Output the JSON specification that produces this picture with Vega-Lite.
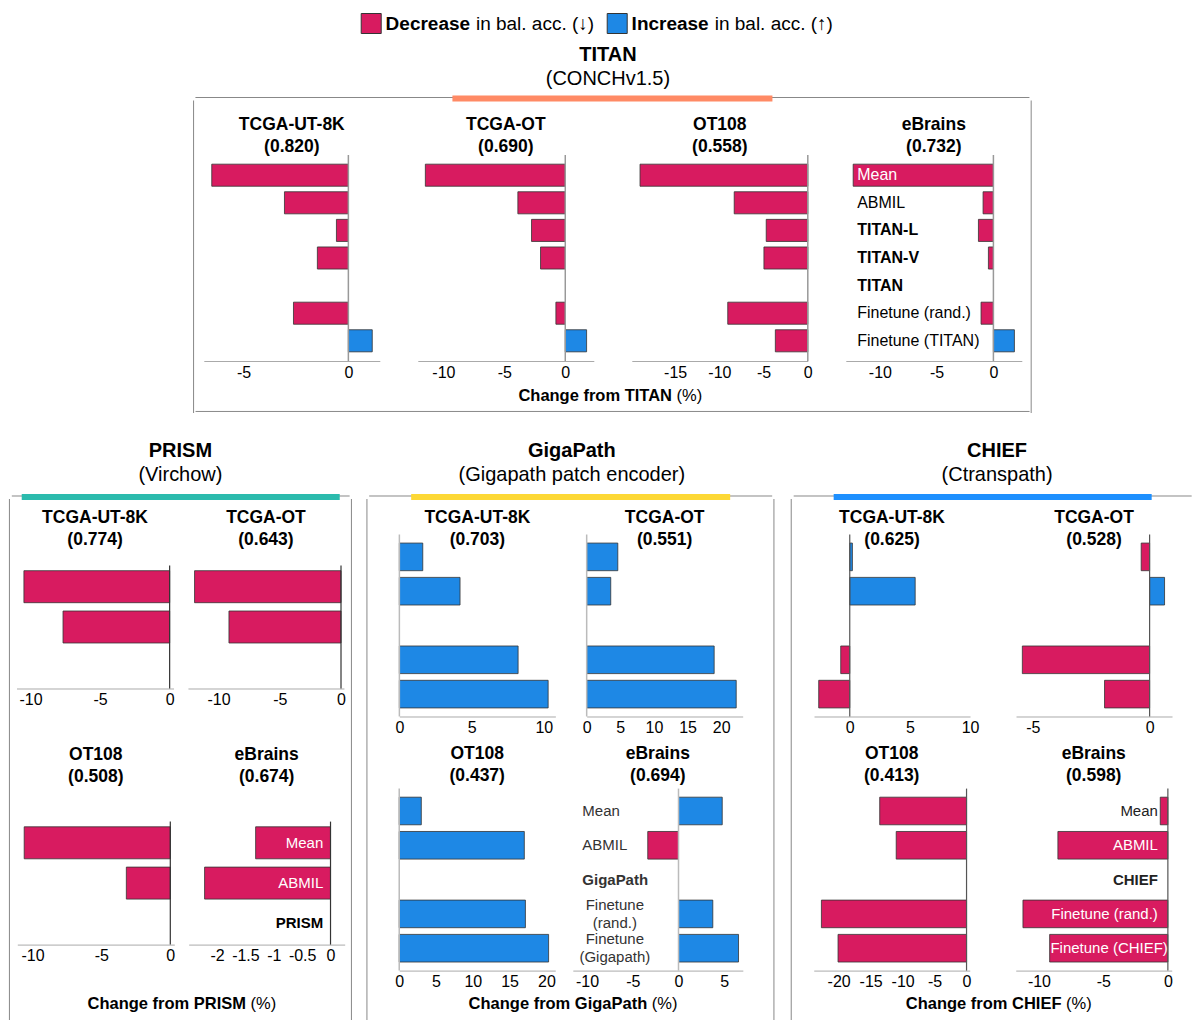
{
"$schema": "https://vega.github.io/schema/vega-lite/v6.json",
"padding": {"left": 8.3, "top": 11.5, "right": 0, "bottom": 0},
"background": "#ffffff",
"data": {"values": [
{"g":"TITAN","d":"TCGA-UT-8K","m":"Mean","v":-6.52},
{"g":"TITAN","d":"TCGA-UT-8K","m":"ABMIL","v":-3.05},
{"g":"TITAN","d":"TCGA-UT-8K","m":"TITAN-L","v":-0.57},
{"g":"TITAN","d":"TCGA-UT-8K","m":"TITAN-V","v":-1.48},
{"g":"TITAN","d":"TCGA-UT-8K","m":"Finetune (rand.)","v":-2.62},
{"g":"TITAN","d":"TCGA-UT-8K","m":"Finetune (TITAN)","v":1.14},
{"g":"TITAN","d":"TCGA-OT","m":"Mean","v":-11.48},
{"g":"TITAN","d":"TCGA-OT","m":"ABMIL","v":-3.89},
{"g":"TITAN","d":"TCGA-OT","m":"TITAN-L","v":-2.77},
{"g":"TITAN","d":"TCGA-OT","m":"TITAN-V","v":-2.03},
{"g":"TITAN","d":"TCGA-OT","m":"Finetune (rand.)","v":-0.77},
{"g":"TITAN","d":"TCGA-OT","m":"Finetune (TITAN)","v":1.75},
{"g":"TITAN","d":"OT108","m":"Mean","v":-18.97},
{"g":"TITAN","d":"OT108","m":"ABMIL","v":-8.32},
{"g":"TITAN","d":"OT108","m":"TITAN-L","v":-4.70},
{"g":"TITAN","d":"OT108","m":"TITAN-V","v":-4.96},
{"g":"TITAN","d":"OT108","m":"Finetune (rand.)","v":-9.05},
{"g":"TITAN","d":"OT108","m":"Finetune (TITAN)","v":-3.67},
{"g":"TITAN","d":"eBrains","m":"Mean","v":-12.35},
{"g":"TITAN","d":"eBrains","m":"ABMIL","v":-0.91},
{"g":"TITAN","d":"eBrains","m":"TITAN-L","v":-1.32},
{"g":"TITAN","d":"eBrains","m":"TITAN-V","v":-0.44},
{"g":"TITAN","d":"eBrains","m":"TITAN","v":null},
{"g":"TITAN","d":"eBrains","m":"Finetune (rand.)","v":-1.09},
{"g":"TITAN","d":"eBrains","m":"Finetune (TITAN)","v":1.85},
{"g":"PRISM","d":"TCGA-UT-8K","m":"Mean","v":-10.47},
{"g":"PRISM","d":"TCGA-UT-8K","m":"ABMIL","v":-7.66},
{"g":"PRISM","d":"TCGA-OT","m":"Mean","v":-11.96},
{"g":"PRISM","d":"TCGA-OT","m":"ABMIL","v":-9.15},
{"g":"PRISM","d":"OT108","m":"Mean","v":-10.6},
{"g":"PRISM","d":"OT108","m":"ABMIL","v":-3.19},
{"g":"PRISM","d":"eBrains","m":"Mean","v":-1.32},
{"g":"PRISM","d":"eBrains","m":"ABMIL","v":-2.22},
{"g":"PRISM","d":"eBrains","m":"PRISM","v":null},
{"g":"GigaPath","d":"TCGA-UT-8K","m":"Mean","v":1.62},
{"g":"GigaPath","d":"TCGA-UT-8K","m":"ABMIL","v":4.2},
{"g":"GigaPath","d":"TCGA-UT-8K","m":"Finetune (rand.)","v":8.22},
{"g":"GigaPath","d":"TCGA-UT-8K","m":"Finetune (Gigapath)","v":10.3},
{"g":"GigaPath","d":"TCGA-OT","m":"Mean","v":4.63},
{"g":"GigaPath","d":"TCGA-OT","m":"ABMIL","v":3.58},
{"g":"GigaPath","d":"TCGA-OT","m":"Finetune (rand.)","v":18.96},
{"g":"GigaPath","d":"TCGA-OT","m":"Finetune (Gigapath)","v":22.24},
{"g":"GigaPath","d":"OT108","m":"Mean","v":3.0},
{"g":"GigaPath","d":"OT108","m":"ABMIL","v":17.0},
{"g":"GigaPath","d":"OT108","m":"Finetune (rand.)","v":17.15},
{"g":"GigaPath","d":"OT108","m":"Finetune (Gigapath)","v":20.3},
{"g":"GigaPath","d":"eBrains","m":"Mean","v":4.78},
{"g":"GigaPath","d":"eBrains","m":"ABMIL","v":-3.36},
{"g":"GigaPath","d":"eBrains","m":"GigaPath","v":null},
{"g":"GigaPath","d":"eBrains","m":"Finetune (rand.)","v":3.75},
{"g":"GigaPath","d":"eBrains","m":"Finetune (Gigapath)","v":6.56},
{"g":"CHIEF","d":"TCGA-UT-8K","m":"Mean","v":0.22},
{"g":"CHIEF","d":"TCGA-UT-8K","m":"ABMIL","v":5.44},
{"g":"CHIEF","d":"TCGA-UT-8K","m":"Finetune (rand.)","v":-0.75},
{"g":"CHIEF","d":"TCGA-UT-8K","m":"Finetune (CHIEF)","v":-2.58},
{"g":"CHIEF","d":"TCGA-OT","m":"Mean","v":-0.36},
{"g":"CHIEF","d":"TCGA-OT","m":"ABMIL","v":0.64},
{"g":"CHIEF","d":"TCGA-OT","m":"Finetune (rand.)","v":-5.45},
{"g":"CHIEF","d":"TCGA-OT","m":"Finetune (CHIEF)","v":-1.93},
{"g":"CHIEF","d":"OT108","m":"Mean","v":-13.58},
{"g":"CHIEF","d":"OT108","m":"ABMIL","v":-11.0},
{"g":"CHIEF","d":"OT108","m":"Finetune (rand.)","v":-22.7},
{"g":"CHIEF","d":"OT108","m":"Finetune (CHIEF)","v":-20.1},
{"g":"CHIEF","d":"eBrains","m":"Mean","v":-0.59},
{"g":"CHIEF","d":"eBrains","m":"ABMIL","v":-8.53},
{"g":"CHIEF","d":"eBrains","m":"CHIEF","v":null},
{"g":"CHIEF","d":"eBrains","m":"Finetune (rand.)","v":-11.24},
{"g":"CHIEF","d":"eBrains","m":"Finetune (CHIEF)","v":-9.17}
]},
"vconcat": [
{"vconcat": [
{"width": 479.6, "height": 0.01,
 "data": {"values": [{"k":"Decrease","r":"in bal. acc. (↓)"},{"k":"Increase","r":"in bal. acc. (↑)"}]},
 "layer": [
  {"mark": {"type":"point","shape":"square","size":400,"filled":true,"opacity":1,"stroke":"#333333","strokeWidth":1},
   "encoding": {"x": {"field":"k","type":"nominal","bandPosition":0.0432,"scale":{"type":"band","domain":["Decrease","Increase"],"paddingInner":0.0504,"paddingOuter":0},"axis":null},
    "color": {"field":"k","type":"nominal","scale":{"domain":["Decrease","Increase"],"range":["#D81B60","#1E88E5"]},"legend":null}}},
  {"mark": {"type":"text","align":"left","baseline":"middle","fontSize":19,"fontWeight":"bold","dx":24.5},
   "encoding": {"x": {"field":"k","type":"nominal","bandPosition":0,"scale":{"type":"band","domain":["Decrease","Increase"],"paddingInner":0.0504,"paddingOuter":0},"axis":null},"text":{"field":"k"}}},
  {"transform":[{"filter":"datum.k=='Decrease'"}],
   "mark": {"type":"text","align":"left","baseline":"middle","fontSize":19,"dx":114.8},
   "encoding": {"x": {"field":"k","type":"nominal","bandPosition":0,"scale":{"type":"band","domain":["Decrease","Increase"],"paddingInner":0.0504,"paddingOuter":0},"axis":null},"text":{"field":"r"}}},
  {"transform":[{"filter":"datum.k=='Increase'"}],
   "mark": {"type":"text","align":"left","baseline":"middle","fontSize":19,"dx":107.6},
   "encoding": {"x": {"field":"k","type":"nominal","bandPosition":0,"scale":{"type":"band","domain":["Decrease","Increase"],"paddingInner":0.0504,"paddingOuter":0},"axis":null},"text":{"field":"r"}}}
 ]},
{"title": {"text":"TITAN","subtitle":"(CONCHv1.5)","fontSize":20,"subtitleFontSize":20,"subtitleColor":"#000000","subtitleFont":"Liberation Sans","subtitlePadding":4,"offset":6.5,"dx":7,"anchor":"middle"},
 "hconcat": [
  {"width":23.4,"height":315.5,"data":{"values":[{}]},"mark":{"type":"rule","color":"#888888","strokeWidth":1},"encoding":{"x":{"datum":1,"type":"quantitative","scale":{"domain":[0,1]},"axis":null},"y":{"datum":0,"type":"quantitative","scale":{"domain":[0,1.0096]},"axis":null},"y2":{"datum":1}}},
  {"vconcat": [
    {"vconcat": [
      {"width":834,"height":0.01,"data":{"values":[{}]},"mark":{"type":"rule","color":"#888888","strokeWidth":1},"encoding":{"x":{"datum":0,"type":"quantitative","scale":{"domain":[0,1]},"axis":null},"x2":{"datum":1}}},
      {"width":320,"height":0.01,"data":{"values":[{}]},"mark":{"type":"rule","color":"#FF8A65","strokeWidth":6},"encoding":{"x":{"datum":0,"type":"quantitative","scale":{"domain":[0,1]},"axis":null},"x2":{"datum":1}}}
    ],"spacing":0,"bounds":"flush","center":true},
    {"vconcat": [
      {"hconcat": [
        {"width":176,"height":206,"title":{"text":["TCGA-UT-8K","(0.820)"],"offset":-1.2},
         "transform":[{"filter":"datum.g=='TITAN' && datum.d=='TCGA-UT-8K'"}],
         "layer":[
          {"transform":[{"filter":"isValid(datum.v)"}],"mark":"bar","encoding":{"x":{"field":"v","type":"quantitative","scale":{"domain":[-6.9,1.5],"nice":false},"axis":{"values":[-5,0],"tickCount":10,"format":"d","title":null,"labelOverlap":false}},"y":{"field":"m","type":"nominal","scale":{"domain":["Mean","ABMIL","TITAN-L","TITAN-V","TITAN","Finetune (rand.)","Finetune (TITAN)"],"paddingInner":0.2,"paddingOuter":0.332},"axis":null},"color":{"condition":{"test":"datum.v < 0","value":"#D81B60"},"value":"#1E88E5"}}},
          {"transform":[{"aggregate":[{"op":"count","as":"n"}]}],"mark":{"type":"rule","color":"#999999","strokeWidth":1.5},"encoding":{"x":{"datum":0,"type":"quantitative"}}}
         ]},
        {"width":176,"height":206,"title":{"text":["TCGA-OT","(0.690)"],"offset":-1.2},
         "transform":[{"filter":"datum.g=='TITAN' && datum.d=='TCGA-OT'"}],
         "layer":[
          {"transform":[{"filter":"isValid(datum.v)"}],"mark":"bar","encoding":{"x":{"field":"v","type":"quantitative","scale":{"domain":[-12.1,2.34],"nice":false},"axis":{"values":[-10,-5,0],"tickCount":10,"format":"d","title":null,"labelOverlap":false}},"y":{"field":"m","type":"nominal","scale":{"domain":["Mean","ABMIL","TITAN-L","TITAN-V","TITAN","Finetune (rand.)","Finetune (TITAN)"],"paddingInner":0.2,"paddingOuter":0.332},"axis":null},"color":{"condition":{"test":"datum.v < 0","value":"#D81B60"},"value":"#1E88E5"}}},
          {"transform":[{"aggregate":[{"op":"count","as":"n"}]}],"mark":{"type":"rule","color":"#999999","strokeWidth":1.5},"encoding":{"x":{"datum":0,"type":"quantitative"}}}
         ]},
        {"width":176,"height":206,"title":{"text":["OT108","(0.558)"],"offset":-1.2},
         "transform":[{"filter":"datum.g=='TITAN' && datum.d=='OT108'"}],
         "layer":[
          {"transform":[{"filter":"isValid(datum.v)"}],"mark":"bar","encoding":{"x":{"field":"v","type":"quantitative","scale":{"domain":[-19.9,0],"nice":false},"axis":{"values":[-15,-10,-5,0],"tickCount":10,"format":"d","title":null,"labelOverlap":false}},"y":{"field":"m","type":"nominal","scale":{"domain":["Mean","ABMIL","TITAN-L","TITAN-V","TITAN","Finetune (rand.)","Finetune (TITAN)"],"paddingInner":0.2,"paddingOuter":0.332},"axis":null},"color":{"condition":{"test":"datum.v < 0","value":"#D81B60"},"value":"#1E88E5"}}},
          {"transform":[{"aggregate":[{"op":"count","as":"n"}]}],"mark":{"type":"rule","color":"#999999","strokeWidth":1.5},"encoding":{"x":{"datum":0,"type":"quantitative"}}}
         ]},
        {"width":176,"height":206,"title":{"text":["eBrains","(0.732)"],"offset":-1.2},
         "transform":[{"filter":"datum.g=='TITAN' && datum.d=='eBrains'"}],
         "layer":[
          {"transform":[{"filter":"isValid(datum.v)"}],"mark":"bar","encoding":{"x":{"field":"v","type":"quantitative","scale":{"domain":[-13,2.5],"nice":false},"axis":{"values":[-10,-5,0],"tickCount":10,"format":"d","title":null,"labelOverlap":false}},"y":{"field":"m","type":"nominal","scale":{"domain":["Mean","ABMIL","TITAN-L","TITAN-V","TITAN","Finetune (rand.)","Finetune (TITAN)"],"paddingInner":0.2,"paddingOuter":0.332},"axis":null},"color":{"condition":{"test":"datum.v < 0","value":"#D81B60"},"value":"#1E88E5"}}},
          {"transform":[{"aggregate":[{"op":"count","as":"n"}]}],"mark":{"type":"rule","color":"#999999","strokeWidth":1.5},"encoding":{"x":{"datum":0,"type":"quantitative"}}},
          {"mark":{"type":"text","align":"left","baseline":"middle","fontSize":16,"dx":11.4,"fontWeight":{"expr":"indexof(['TITAN-L','TITAN-V','TITAN','PRISM','GigaPath','CHIEF'], datum.m) >= 0 ? 'bold' : 'normal'"}},
           "encoding":{"x":{"datum":-13,"type":"quantitative"},"y":{"field":"m","type":"nominal","axis":null},"text":{"field":"m"},"color":{"condition":{"test":"datum.v < -8","value":"#ffffff"},"value":"#000000"}}}
         ]}
      ],"spacing":38,"bounds":"flush"},
      {"vconcat":[
        {"width":834,"height":0.01,"data":{"values":[{"a":"Change from TITAN","b":"(%)"}]},
         "encoding":{"x":{"datum":0.5,"type":"quantitative","scale":{"domain":[0,1]},"axis":null}},
         "layer":[
          {"mark":{"type":"text","align":"right","baseline":"middle","fontSize":16.5,"fontWeight":"bold","dx":59.4},"encoding":{"text":{"field":"a"}}},
          {"mark":{"type":"text","align":"left","baseline":"middle","fontSize":16.5,"dx":64},"encoding":{"text":{"field":"b"}}}
         ]},
        {"width":834,"height":0.01,"data":{"values":[{}]},"mark":{"type":"rule","color":"#888888","strokeWidth":1},"encoding":{"x":{"datum":0,"type":"quantitative","scale":{"domain":[0,1]},"axis":null},"x2":{"datum":1}}}
      ],"spacing":14,"bounds":"flush","center":true}
    ],"spacing":8.45,"center":true}
  ],"spacing":12.5,"center":true},
  {"width":0.01,"height":315.5,"data":{"values":[{}]},"mark":{"type":"rule","color":"#888888","strokeWidth":1},"encoding":{"x":{"datum":0,"type":"quantitative","scale":{"domain":[0,1]},"axis":null},"y":{"datum":0,"type":"quantitative","scale":{"domain":[0,1.0096]},"axis":null},"y2":{"datum":1}}}
 ],"spacing":0}
],"spacing":8,"center":true},
{"hconcat": [
 {"title": {"text":"PRISM","subtitle":"(Virchow)","fontSize":20,"subtitleFontSize":20,"subtitleColor":"#000000","subtitleFont":"Liberation Sans","subtitlePadding":4,"offset":9,"anchor":"middle"},
  "hconcat": [
   {"width":0.01,"height":526,"data":{"values":[{}]},"mark":{"type":"rule","color":"#888888","strokeWidth":1},"encoding":{"x":{"datum":0,"type":"quantitative","scale":{"domain":[0,1]},"axis":null},"y":{"datum":0,"type":"quantitative","scale":{"domain":[0,1.00574]},"axis":null},"y2":{"datum":1}}},
   {"vconcat": [
     {"vconcat": [
       {"width":337.8,"height":0.01,"data":{"values":[{}]},"mark":{"type":"rule","color":"#888888","strokeWidth":1},"encoding":{"x":{"datum":0,"type":"quantitative","scale":{"domain":[0,1]},"axis":null},"x2":{"datum":1}}},
       {"width":318,"height":0.01,"data":{"values":[{}]},"mark":{"type":"rule","color":"#2BBBAD","strokeWidth":6},"encoding":{"x":{"datum":0,"type":"quantitative","scale":{"domain":[0,1]},"axis":null},"x2":{"datum":1}}}
     ],"spacing":0,"bounds":"flush","center":true},
     {"vconcat": [
       {"vconcat": [
         {"hconcat": [
           {"width":157,"height":123,"title":{"text":["TCGA-UT-8K","(0.774)"],"offset":16.2},
            "transform":[{"filter":"datum.g=='PRISM' && datum.d=='TCGA-UT-8K'"}],
            "layer":[
             {"transform":[{"filter":"isValid(datum.v)"}],"mark":"bar","encoding":{"x":{"field":"v","type":"quantitative","scale":{"domain":[-11.0,0.28],"nice":false},"axis":{"values":[-10,-5,0],"tickCount":10,"format":"d","title":null,"labelOverlap":false}},"y":{"field":"m","type":"nominal","scale":{"domain":["Mean","ABMIL","PRISM"],"paddingInner":0.206,"paddingOuter":0.129},"axis":null},"color":{"condition":{"test":"datum.v < 0","value":"#D81B60"},"value":"#1E88E5"}}},
             {"transform":[{"aggregate":[{"op":"count","as":"n"}]}],"mark":{"type":"rule","color":"#333333","strokeWidth":1.2},"encoding":{"x":{"datum":0,"type":"quantitative"}}}
            ]},
           {"width":156,"height":123,"title":{"text":["TCGA-OT","(0.643)"],"offset":16.2},
            "transform":[{"filter":"datum.g=='PRISM' && datum.d=='TCGA-OT'"}],
            "layer":[
             {"transform":[{"filter":"isValid(datum.v)"}],"mark":"bar","encoding":{"x":{"field":"v","type":"quantitative","scale":{"domain":[-12.5,0.24],"nice":false},"axis":{"values":[-10,-5,0],"tickCount":10,"format":"d","title":null,"labelOverlap":false}},"y":{"field":"m","type":"nominal","scale":{"domain":["Mean","ABMIL","PRISM"],"paddingInner":0.206,"paddingOuter":0.129},"axis":null},"color":{"condition":{"test":"datum.v < 0","value":"#D81B60"},"value":"#1E88E5"}}},
             {"transform":[{"aggregate":[{"op":"count","as":"n"}]}],"mark":{"type":"rule","color":"#333333","strokeWidth":1.2},"encoding":{"x":{"datum":0,"type":"quantitative"}}}
            ]}
         ],"spacing":14.4,"bounds":"flush"},
         {"hconcat": [
           {"width":157,"height":123,"title":{"text":["OT108","(0.508)"],"offset":35.1},
            "transform":[{"filter":"datum.g=='PRISM' && datum.d=='OT108'"}],
            "layer":[
             {"transform":[{"filter":"isValid(datum.v)"}],"mark":"bar","encoding":{"x":{"field":"v","type":"quantitative","scale":{"domain":[-11.1,0.29],"nice":false},"axis":{"values":[-10,-5,0],"tickCount":10,"format":"d","title":null,"labelOverlap":false}},"y":{"field":"m","type":"nominal","scale":{"domain":["Mean","ABMIL","PRISM"],"paddingInner":0.206,"paddingOuter":0.129},"axis":null},"color":{"condition":{"test":"datum.v < 0","value":"#D81B60"},"value":"#1E88E5"}}},
             {"transform":[{"aggregate":[{"op":"count","as":"n"}]}],"mark":{"type":"rule","color":"#333333","strokeWidth":1.2},"encoding":{"x":{"datum":0,"type":"quantitative"}}}
            ]},
           {"width":156,"height":123,"title":{"text":["eBrains","(0.674)"],"offset":35.1},
            "transform":[{"filter":"datum.g=='PRISM' && datum.d=='eBrains'"}],
            "layer":[
             {"transform":[{"filter":"isValid(datum.v)"}],"mark":"bar","encoding":{"x":{"field":"v","type":"quantitative","scale":{"domain":[-2.5,0.25],"nice":false},"axis":{"values":[-2,-1.5,-1,-0.5,0],"tickCount":10,"format":"~g","title":null,"labelOverlap":false}},"y":{"field":"m","type":"nominal","scale":{"domain":["Mean","ABMIL","PRISM"],"paddingInner":0.206,"paddingOuter":0.129},"axis":null},"color":{"condition":{"test":"datum.v < 0","value":"#D81B60"},"value":"#1E88E5"}}},
             {"transform":[{"aggregate":[{"op":"count","as":"n"}]}],"mark":{"type":"rule","color":"#333333","strokeWidth":1.2},"encoding":{"x":{"datum":0,"type":"quantitative"}}},
             {"mark":{"type":"text","align":"right","baseline":"middle","fontSize":15,"dx":-7.3,"fontWeight":{"expr":"indexof(['TITAN-L','TITAN-V','TITAN','PRISM','GigaPath','CHIEF'], datum.m) >= 0 ? 'bold' : 'normal'"}},
              "encoding":{"x":{"datum":0,"type":"quantitative"},"y":{"field":"m","type":"nominal","axis":null},"text":{"field":"m"},"color":{"condition":{"test":"datum.v < -1","value":"#ffffff"},"value":"#000000"}}}
            ]}
         ],"spacing":14.4,"bounds":"flush"}
       ],"spacing":38.1,"center":true},
       {"width":337.8,"height":0.01,"data":{"values":[{"a":"Change from PRISM","b":"(%)"}]},
        "encoding":{"x":{"datum":0.5,"type":"quantitative","scale":{"domain":[0,1]},"axis":null}},
        "layer":[
         {"mark":{"type":"text","align":"right","baseline":"middle","fontSize":16.5,"fontWeight":"bold","dx":65},"encoding":{"text":{"field":"a"}}},
         {"mark":{"type":"text","align":"left","baseline":"middle","fontSize":16.5,"dx":69.6},"encoding":{"text":{"field":"b"}}}
        ]}
     ],"spacing":31.95,"center":true}
   ],"spacing":7.5,"center":true},
   {"width":0.01,"height":526,"data":{"values":[{}]},"mark":{"type":"rule","color":"#888888","strokeWidth":1},"encoding":{"x":{"datum":0,"type":"quantitative","scale":{"domain":[0,1]},"axis":null},"y":{"datum":0,"type":"quantitative","scale":{"domain":[0,1.00574]},"axis":null},"y2":{"datum":1}}}
  ],"spacing":0},
 {"title": {"text":"GigaPath","subtitle":"(Gigapath patch encoder)","fontSize":20,"subtitleFontSize":20,"subtitleColor":"#000000","subtitleFont":"Liberation Sans","subtitlePadding":4,"offset":9,"dx":1.4,"anchor":"middle"},
  "hconcat": [
   {"width":0.01,"height":526,"data":{"values":[{}]},"mark":{"type":"rule","color":"#888888","strokeWidth":1},"encoding":{"x":{"datum":0,"type":"quantitative","scale":{"domain":[0,1]},"axis":null},"y":{"datum":0,"type":"quantitative","scale":{"domain":[0,1.00574]},"axis":null},"y2":{"datum":1}}},
   {"vconcat": [
     {"vconcat": [
       {"width":403,"height":0.01,"data":{"values":[{}]},"mark":{"type":"rule","color":"#888888","strokeWidth":1},"encoding":{"x":{"datum":0,"type":"quantitative","scale":{"domain":[0,1]},"axis":null},"x2":{"datum":1}}},
       {"width":319,"height":0.01,"data":{"values":[{}]},"mark":{"type":"rule","color":"#FDD835","strokeWidth":6},"encoding":{"x":{"datum":0,"type":"quantitative","scale":{"domain":[0,1]},"axis":null},"x2":{"datum":1}}}
     ],"spacing":0,"bounds":"flush","center":true},
     {"vconcat": [
       {"vconcat": [
         {"hconcat": [
           {"width":156,"height":182,"title":{"text":["TCGA-UT-8K","(0.703)"],"offset":-14.3},
            "transform":[{"filter":"datum.g=='GigaPath' && datum.d=='TCGA-UT-8K'"}],
            "layer":[
             {"transform":[{"filter":"isValid(datum.v)"}],"mark":"bar","encoding":{"x":{"field":"v","type":"quantitative","scale":{"domain":[0,10.8],"nice":false},"axis":{"values":[0,5,10],"tickCount":10,"format":"d","title":null,"labelOverlap":false}},"y":{"field":"m","type":"nominal","scale":{"domain":["Mean","ABMIL","GigaPath","Finetune (rand.)","Finetune (Gigapath)"],"paddingInner":0.195,"paddingOuter":0.25},"axis":null},"color":{"condition":{"test":"datum.v < 0","value":"#D81B60"},"value":"#1E88E5"}}},
             {"transform":[{"aggregate":[{"op":"count","as":"n"}]}],"mark":{"type":"rule","color":"#bbbbbb","strokeWidth":1.5},"encoding":{"x":{"datum":0,"type":"quantitative"}}}
            ]},
           {"width":156,"height":182,"title":{"text":["TCGA-OT","(0.551)"],"offset":-14.3},
            "transform":[{"filter":"datum.g=='GigaPath' && datum.d=='TCGA-OT'"}],
            "layer":[
             {"transform":[{"filter":"isValid(datum.v)"}],"mark":"bar","encoding":{"x":{"field":"v","type":"quantitative","scale":{"domain":[0,23.2],"nice":false},"axis":{"values":[0,5,10,15,20],"tickCount":10,"format":"d","title":null,"labelOverlap":false}},"y":{"field":"m","type":"nominal","scale":{"domain":["Mean","ABMIL","GigaPath","Finetune (rand.)","Finetune (Gigapath)"],"paddingInner":0.195,"paddingOuter":0.25},"axis":null},"color":{"condition":{"test":"datum.v < 0","value":"#D81B60"},"value":"#1E88E5"}}},
             {"transform":[{"aggregate":[{"op":"count","as":"n"}]}],"mark":{"type":"rule","color":"#bbbbbb","strokeWidth":1.5},"encoding":{"x":{"datum":0,"type":"quantitative"}}}
            ]}
         ],"spacing":31.3,"bounds":"flush"},
         {"hconcat": [
           {"width":156,"height":182,"title":{"text":["OT108","(0.437)"],"offset":3.4},
            "transform":[{"filter":"datum.g=='GigaPath' && datum.d=='OT108'"}],
            "layer":[
             {"transform":[{"filter":"isValid(datum.v)"}],"mark":"bar","encoding":{"x":{"field":"v","type":"quantitative","scale":{"domain":[0,21.2],"nice":false},"axis":{"values":[0,5,10,15,20],"tickCount":10,"format":"d","title":null,"labelOverlap":false}},"y":{"field":"m","type":"nominal","scale":{"domain":["Mean","ABMIL","GigaPath","Finetune (rand.)","Finetune (Gigapath)"],"paddingInner":0.195,"paddingOuter":0.25},"axis":null},"color":{"condition":{"test":"datum.v < 0","value":"#D81B60"},"value":"#1E88E5"}}},
             {"transform":[{"aggregate":[{"op":"count","as":"n"}]}],"mark":{"type":"rule","color":"#bbbbbb","strokeWidth":1.5},"encoding":{"x":{"datum":0,"type":"quantitative"}}}
            ]},
           {"width":170,"height":182,"title":{"text":["eBrains","(0.694)"],"offset":3.4},
            "transform":[{"filter":"datum.g=='GigaPath' && datum.d=='eBrains'"}],
            "layer":[
             {"transform":[{"filter":"isValid(datum.v)"}],"mark":"bar","encoding":{"x":{"field":"v","type":"quantitative","scale":{"domain":[-11.55,7.03],"nice":false},"axis":{"values":[-10,-5,0,5],"tickCount":10,"format":"d","title":null,"labelOverlap":false}},"y":{"field":"m","type":"nominal","scale":{"domain":["Mean","ABMIL","GigaPath","Finetune (rand.)","Finetune (Gigapath)"],"paddingInner":0.195,"paddingOuter":0.25},"axis":null},"color":{"condition":{"test":"datum.v < 0","value":"#D81B60"},"value":"#1E88E5"}}},
             {"transform":[{"aggregate":[{"op":"count","as":"n"}]}],"mark":{"type":"rule","color":"#bbbbbb","strokeWidth":1.5},"encoding":{"x":{"datum":0,"type":"quantitative"}}},
             {"transform":[{"filter":"indexof(['Mean','ABMIL','GigaPath'], datum.m) >= 0"}],
              "mark":{"type":"text","align":"left","baseline":"middle","fontSize":15,"dx":9.5,"color":"#333333","fontWeight":{"expr":"indexof(['TITAN-L','TITAN-V','TITAN','PRISM','GigaPath','CHIEF'], datum.m) >= 0 ? 'bold' : 'normal'"}},
              "encoding":{"x":{"datum":-11.55,"type":"quantitative"},"y":{"field":"m","type":"nominal","axis":null},"text":{"field":"m"}}},
             {"transform":[{"filter":"indexof(['Finetune (rand.)','Finetune (Gigapath)'], datum.m) >= 0"}],
              "mark":{"type":"text","align":"center","baseline":"middle","fontSize":15,"dx":42,"dy":-9,"color":"#333333","lineBreak":" ","lineHeight":18},
              "encoding":{"x":{"datum":-11.55,"type":"quantitative"},"y":{"field":"m","type":"nominal","axis":null},"text":{"field":"m"}}}
            ]}
         ],"spacing":17.6,"bounds":"flush"}
       ],"spacing":9.1,"center":true},
       {"width":403,"height":0.01,"data":{"values":[{"a":"Change from GigaPath","b":"(%)"}]},
        "encoding":{"x":{"datum":0.5,"type":"quantitative","scale":{"domain":[0,1]},"axis":null}},
        "layer":[
         {"mark":{"type":"text","align":"right","baseline":"middle","fontSize":16.5,"fontWeight":"bold","dx":76.3},"encoding":{"text":{"field":"a"}}},
         {"mark":{"type":"text","align":"left","baseline":"middle","fontSize":16.5,"dx":80.9},"encoding":{"text":{"field":"b"}}}
        ]}
     ],"spacing":5.05,"center":true}
   ],"spacing":7.5,"center":true},
   {"width":0.01,"height":526,"data":{"values":[{}]},"mark":{"type":"rule","color":"#888888","strokeWidth":1},"encoding":{"x":{"datum":0,"type":"quantitative","scale":{"domain":[0,1]},"axis":null},"y":{"datum":0,"type":"quantitative","scale":{"domain":[0,1.00574]},"axis":null},"y2":{"datum":1}}}
  ],"spacing":0},
 {"title": {"text":"CHIEF","subtitle":"(Ctranspath)","fontSize":20,"subtitleFontSize":20,"subtitleColor":"#000000","subtitleFont":"Liberation Sans","subtitlePadding":4,"offset":9,"dx":6.8,"anchor":"middle"},
  "hconcat": [
   {"width":2.8,"height":526,"data":{"values":[{}]},"mark":{"type":"rule","color":"#888888","strokeWidth":1},"encoding":{"x":{"datum":1,"type":"quantitative","scale":{"domain":[0,1]},"axis":null},"y":{"datum":0,"type":"quantitative","scale":{"domain":[0,1.00574]},"axis":null},"y2":{"datum":1}}},
   {"vconcat": [
     {"vconcat": [
       {"width":398,"height":0.01,"data":{"values":[{}]},"mark":{"type":"rule","color":"#888888","strokeWidth":1},"encoding":{"x":{"datum":0,"type":"quantitative","scale":{"domain":[0,1]},"axis":null},"x2":{"datum":1}}},
       {"width":318,"height":0.01,"data":{"values":[{}]},"mark":{"type":"rule","color":"#1E90FF","strokeWidth":6},"encoding":{"x":{"datum":0,"type":"quantitative","scale":{"domain":[0,1]},"axis":null},"x2":{"datum":1}}}
     ],"spacing":0,"bounds":"flush","center":true},
     {"vconcat": [
       {"vconcat": [
         {"hconcat": [
           {"width":156,"height":182,"title":{"text":["TCGA-UT-8K","(0.625)"],"offset":-14.3},
            "transform":[{"filter":"datum.g=='CHIEF' && datum.d=='TCGA-UT-8K'"}],
            "layer":[
             {"transform":[{"filter":"isValid(datum.v)"}],"mark":"bar","encoding":{"x":{"field":"v","type":"quantitative","scale":{"domain":[-2.97,10],"nice":false},"axis":{"values":[0,5,10],"tickCount":10,"format":"d","title":null,"labelOverlap":false}},"y":{"field":"m","type":"nominal","scale":{"domain":["Mean","ABMIL","CHIEF","Finetune (rand.)","Finetune (CHIEF)"],"paddingInner":0.195,"paddingOuter":0.25},"axis":null},"color":{"condition":{"test":"datum.v < 0","value":"#D81B60"},"value":"#1E88E5"}}},
             {"transform":[{"aggregate":[{"op":"count","as":"n"}]}],"mark":{"type":"rule","color":"#555555","strokeWidth":1.2},"encoding":{"x":{"datum":0,"type":"quantitative"}}}
            ]},
           {"width":156,"height":182,"title":{"text":["TCGA-OT","(0.528)"],"offset":-14.3},
            "transform":[{"filter":"datum.g=='CHIEF' && datum.d=='TCGA-OT'"}],
            "layer":[
             {"transform":[{"filter":"isValid(datum.v)"}],"mark":"bar","encoding":{"x":{"field":"v","type":"quantitative","scale":{"domain":[-5.72,0.96],"nice":false},"axis":{"values":[-5,0],"tickCount":10,"format":"d","title":null,"labelOverlap":false}},"y":{"field":"m","type":"nominal","scale":{"domain":["Mean","ABMIL","CHIEF","Finetune (rand.)","Finetune (CHIEF)"],"paddingInner":0.195,"paddingOuter":0.25},"axis":null},"color":{"condition":{"test":"datum.v < 0","value":"#D81B60"},"value":"#1E88E5"}}},
             {"transform":[{"aggregate":[{"op":"count","as":"n"}]}],"mark":{"type":"rule","color":"#555555","strokeWidth":1.2},"encoding":{"x":{"datum":0,"type":"quantitative"}}}
            ]}
         ],"spacing":46,"bounds":"flush"},
         {"hconcat": [
           {"width":156,"height":182,"title":{"text":["OT108","(0.413)"],"offset":3.4},
            "transform":[{"filter":"datum.g=='CHIEF' && datum.d=='OT108'"}],
            "layer":[
             {"transform":[{"filter":"isValid(datum.v)"}],"mark":"bar","encoding":{"x":{"field":"v","type":"quantitative","scale":{"domain":[-23.9,0.5],"nice":false},"axis":{"values":[-20,-15,-10,-5,0],"tickCount":10,"format":"d","title":null,"labelOverlap":false}},"y":{"field":"m","type":"nominal","scale":{"domain":["Mean","ABMIL","CHIEF","Finetune (rand.)","Finetune (CHIEF)"],"paddingInner":0.195,"paddingOuter":0.25},"axis":null},"color":{"condition":{"test":"datum.v < 0","value":"#D81B60"},"value":"#1E88E5"}}},
             {"transform":[{"aggregate":[{"op":"count","as":"n"}]}],"mark":{"type":"rule","color":"#555555","strokeWidth":1.2},"encoding":{"x":{"datum":0,"type":"quantitative"}}}
            ]},
           {"width":156,"height":182,"title":{"text":["eBrains","(0.598)"],"offset":3.4},
            "transform":[{"filter":"datum.g=='CHIEF' && datum.d=='eBrains'"}],
            "layer":[
             {"transform":[{"filter":"isValid(datum.v)"}],"mark":"bar","encoding":{"x":{"field":"v","type":"quantitative","scale":{"domain":[-11.8,0.3],"nice":false},"axis":{"values":[-10,-5,0],"tickCount":10,"format":"d","title":null,"labelOverlap":false}},"y":{"field":"m","type":"nominal","scale":{"domain":["Mean","ABMIL","CHIEF","Finetune (rand.)","Finetune (CHIEF)"],"paddingInner":0.195,"paddingOuter":0.25},"axis":null},"color":{"condition":{"test":"datum.v < 0","value":"#D81B60"},"value":"#1E88E5"}}},
             {"transform":[{"aggregate":[{"op":"count","as":"n"}]}],"mark":{"type":"rule","color":"#555555","strokeWidth":1.2},"encoding":{"x":{"datum":0,"type":"quantitative"}}},
             {"mark":{"type":"text","align":"right","baseline":"middle","fontSize":15,"dx":{"expr":"datum.m == 'Finetune (CHIEF)' ? 0 : -10"},"fontWeight":{"expr":"indexof(['TITAN-L','TITAN-V','TITAN','PRISM','GigaPath','CHIEF'], datum.m) >= 0 ? 'bold' : 'normal'"}},
              "encoding":{"x":{"datum":0,"type":"quantitative"},"y":{"field":"m","type":"nominal","axis":null},"text":{"field":"m"},"color":{"condition":{"test":"datum.v < -1","value":"#ffffff"},"value":"#222222"}}}
            ]}
         ],"spacing":46,"bounds":"flush"}
       ],"spacing":9.1,"center":true},
       {"width":398,"height":0.01,"data":{"values":[{"a":"Change from CHIEF","b":"(%)"}]},
        "encoding":{"x":{"datum":0.5,"type":"quantitative","scale":{"domain":[0,1]},"axis":null}},
        "layer":[
         {"mark":{"type":"text","align":"right","baseline":"middle","fontSize":16.5,"fontWeight":"bold","dx":68.6},"encoding":{"text":{"field":"a"}}},
         {"mark":{"type":"text","align":"left","baseline":"middle","fontSize":16.5,"dx":73.2},"encoding":{"text":{"field":"b"}}}
        ]}
     ],"spacing":5.05,"center":true}
   ],"spacing":7.5,"center":true}
  ],"spacing":0}
],"spacing":13.5}
],
"spacing": 27.5, "center": true,
"config": {
 "font": "Liberation Sans",
 "locale": {"number": {"decimal": ".", "thousands": ",", "grouping": [3], "currency": ["$", ""], "minus": "-"}},
 "view": {"stroke": null},
 "axis": {"domainColor":"#aaaaaa","domainWidth":1,"ticks":false,"tickSize":0,"grid":false,"labelFontSize":16,"labelColor":"#000000","labelPadding":3,"labelFlush":false,"labelOverlap":false},
 "title": {"fontSize":17.5,"fontWeight":"bold","lineHeight":22,"color":"#000000","anchor":"middle"},
 "bar": {"stroke":"#333333","strokeWidth":0.8},
 "text": {"color":"#000000"}
}
}
